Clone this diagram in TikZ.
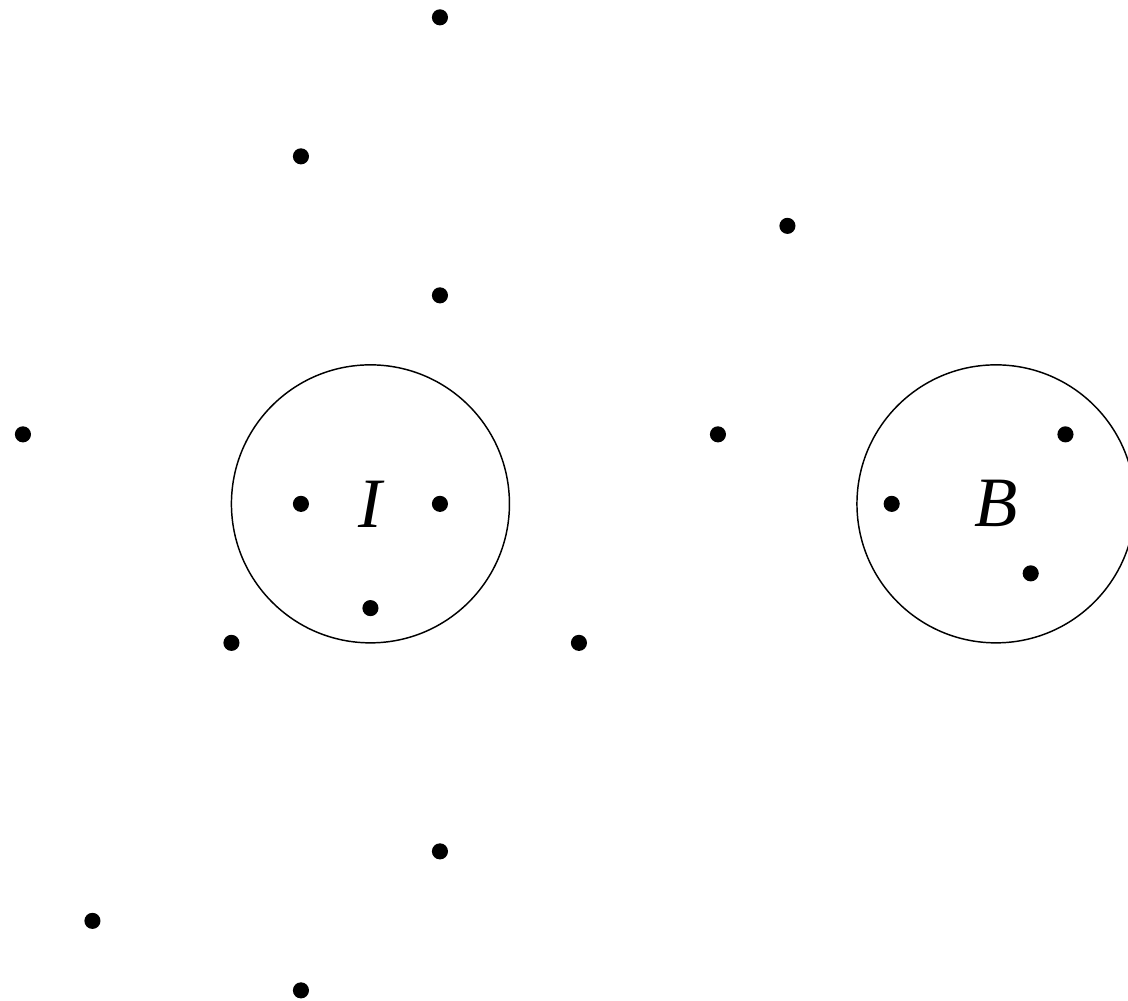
\documentclass[tikz,border=0pt]{standalone}
\usepackage{fontspec}
\setmainfont{Liberation Serif}
\usepackage{tikz}
\usetikzlibrary{positioning}

\begin{document}
\begin{tikzpicture}[
    x=0.5cm, y=0.5cm,
    font=\fontsize{14.5}{16}\selectfont\itshape,
    dot/.style={circle, fill=black, inner sep=0pt, minimum size=3.3pt},
    region/.style={draw=black, circle, line width=0.3pt, inner sep=0pt,
        minimum size=2cm}
]
\clip (-0.33,-0.14) rectangle (15.9,14.25);

% Regions
\node[region] (regI) at (5,7) {I};
\node[region] (regB) at (14,7) {B};

% Points
\foreach \x/\y [count=\i] in {6/14, 4/12, 11/11, 6/10, 0/8, 10/8, 15/8,
    4/7, 6/7, 12.5/7, 14.5/6, 5/5.5, 3/5, 8/5, 6/2, 1/1, 4/0}
    \node[dot] (pt\i) at (\x,\y) {};

\end{tikzpicture}
\end{document}
